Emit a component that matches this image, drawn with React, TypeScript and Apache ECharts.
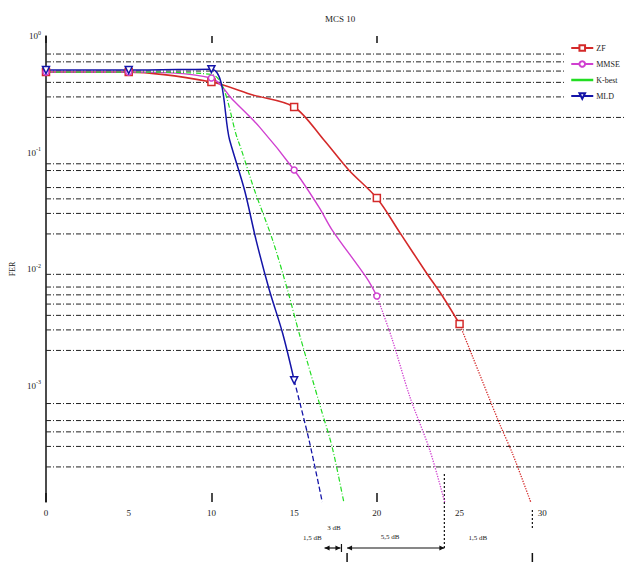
import React, { useEffect, useRef } from "react";
import * as echarts from "echarts";

// ---- data ----
const markerX = [0, 5, 10, 15, 20, 25];

const zfX = [0, 5, 10, 12.5, 15, 16.8, 18.3, 20, 21.4, 23, 24, 25];
const zfY = [0.49, 0.49, 0.403, 0.312, 0.246, 0.128, 0.0708, 0.0406, 0.0204, 0.00925, 0.00575, 0.00337];
const zfExtX = [25, 25.7, 27.4, 28.2, 29.3];
const zfExtY = [0.00337, 0.0019, 0.000476, 0.00026, 0.0001];

const mmseX = [0, 5, 10, 11.3, 12.9, 15, 16.5, 17.3, 19.4, 20];
const mmseY = [0.49, 0.49, 0.436, 0.282, 0.166, 0.0708, 0.034, 0.0216, 0.0083, 0.00586];
const mmseExtX = [20, 20.9, 22, 23.2, 24.1];
const mmseExtY = [0.00586, 0.00256, 0.000796, 0.000279, 0.0001];

const kbestX = [0, 5, 10, 11.6, 12.6, 13.7, 14.6, 15.3, 16.6, 17.3, 18.0];
const kbestY = [0.49, 0.49, 0.468, 0.128, 0.0476, 0.0177, 0.0066, 0.00282, 0.000646, 0.000295, 0.0001];

const mldX = [0, 5, 10, 11.1, 12.0, 12.7, 13.5, 14.3, 15];
const mldY = [0.51, 0.51, 0.519, 0.128, 0.0476, 0.0177, 0.0066, 0.00282, 0.00111];
const mldExtX = [15, 15.9, 16.7];
const mldExtY = [0.00111, 0.00034, 0.0001];

const gridValues = [
  0.7, 0.6, 0.5, 0.4, 0.3, 0.2,
  0.08, 0.07, 0.05, 0.04, 0.03, 0.02,
  0.009, 0.007, 0.006, 0.005, 0.004, 0.003, 0.002,
  0.0007, 0.0005, 0.0004, 0.0003, 0.0002,
];

const xTickValues = [0, 5, 10, 15, 20, 25, 30];
const xTickMarks = [0, 10, 20];

const seriesNames = ["ZF", "MMSE", "K-best", "MLD"];
const seriesColors = ["#d42a2a", "#d040d0", "#22dd22", "#1414a8"];

// annotation positions on the SNR axis
const bracketX = [16.84, 17.8, 18.2, 24.08, 29.4];
const annotLabels = ["1,5 dB", "3 dB", "5,5 dB", "1,5 dB"];
const annotLabelX = [16.1, 17.4, 20.8, 26.1];

function buildData(xs: number[], ys: number[], markers: boolean) {
  return xs.map((x, i) =>
    markers && markerX.includes(x) ? [x, ys[i]] : { value: [x, ys[i]], symbol: "none" }
  );
}

export default function App() {
  const ref = useRef<HTMLDivElement>(null);

  useEffect(() => {
    if (!ref.current) return;
    const chart = echarts.init(ref.current, undefined, { renderer: "svg" });
    const font = "Liberation Serif";
    const [cZF, cMM, cKB, cML] = seriesColors;

    const lineSeries = (name: string, xs: number[], ys: number[], color: string, opts: any) => ({
      name,
      type: "line",
      data: buildData(xs, ys, opts.markers),
      smooth: 0.3,
      showSymbol: true,
      showAllSymbol: true,
      symbol: opts.symbol || "none",
      symbolSize: opts.symbolSize || 7,
      symbolRotate: opts.symbolRotate || 0,
      lineStyle: { color, width: opts.width || 1.4, type: opts.type || "solid" },
      itemStyle: { color: "#ffffff", borderColor: color, borderWidth: 1.5 },
      z: 3,
      silent: true,
    });

    const option: any = {
      animation: false,
      backgroundColor: "#ffffff",
      title: {
        text: "MCS 10",
        left: 335,
        top: 9,
        textAlign: "center",
        textStyle: { fontSize: 9, fontWeight: "normal", fontFamily: font, color: "#222" },
      },
      legend: {
        orient: "vertical",
        left: 566,
        top: 40,
        itemWidth: 22,
        itemHeight: 7,
        itemGap: 8,
        padding: [4, 8, 8, 4],
        backgroundColor: "#ffffff",
        textStyle: { fontSize: 8, fontFamily: font, color: "#222", padding: [0, 0, 0, -2] },
        data: seriesNames.map((n) =>
          n === "K-best"
            ? {
                name: n,
                lineStyle: { type: "solid", width: 2.5, color: cKB },
                itemStyle: { color: "transparent", borderColor: "transparent", borderWidth: 0, opacity: 0 },
              }
            : { name: n, lineStyle: { type: "solid", width: 2 } }
        ),
      },
      grid: { left: 46, right: 4, top: 36, bottom: 62, containLabel: false },
      xAxis: [
        {
          type: "value",
          min: 0,
          max: 35,
          interval: 5,
          axisLine: { show: false },
          splitLine: { show: false },
          axisTick: { show: true, inside: true, length: 9, customValues: xTickMarks, lineStyle: { color: "#111", width: 1.5 } },
          axisLabel: {
            customValues: xTickValues,
            margin: 6,
            fontSize: 9,
            fontFamily: font,
            color: "#222",
          },
        },
        {
          type: "value",
          position: "top",
          min: 0,
          max: 35,
          interval: 5,
          axisLine: { show: false },
          splitLine: { show: false },
          axisLabel: { show: false },
          axisTick: { show: true, inside: true, length: 7, customValues: xTickMarks, lineStyle: { color: "#111", width: 1.5 } },
        },
      ],
      yAxis: [
        {
          type: "log",
          logBase: 10,
          min: 0.0001,
          max: 1,
          name: "FER",
          nameLocation: "middle",
          nameGap: 24,
          nameRotate: 90,
          nameTextStyle: { fontSize: 8, fontFamily: font, color: "#222" },
          axisLine: { show: false },
          axisTick: { show: false },
          splitLine: { show: false },
          axisLabel: {
            margin: 5,
            fontFamily: font,
            color: "#222",
            formatter: (v: number) => {
              const e = Math.round(Math.log10(v));
              if (e === -4) return "";
              return `{b|10}{s|${e}}`;
            },
            rich: {
              b: { fontSize: 9, fontFamily: font, color: "#222" },
              s: { fontSize: 6, fontFamily: font, color: "#222", padding: [0, 0, 7, 0] },
            },
          },
        },
        {
          type: "log",
          logBase: 10,
          min: 0.0001,
          max: 1,
          position: "right",
          axisLine: { show: true, lineStyle: { color: "#111", width: 1.5 } },
          axisTick: { show: false },
          axisLabel: { show: false },
          splitLine: { show: false },
        },
      ],
      series: [
        {
          name: "grid",
          type: "custom",
          z: 1,
          silent: true,
          data: gridValues.map((v) => [0, v]),
          encode: { x: 0, y: 1 },
          renderItem: (params: any, api: any) => {
            const y = api.coord([0, api.value(1)])[1];
            const cs = params.coordSys;
            return {
              type: "line",
              shape: { x1: cs.x, y1: y, x2: cs.x + cs.width, y2: y },
              style: { stroke: "#222", lineWidth: 1, lineDash: [5, 2, 1, 2] },
            };
          },
        },
        lineSeries("ZF", zfX, zfY, cZF, { markers: true, symbol: "rect", symbolSize: 7, width: 1.6 }),
        lineSeries("ZF ext", zfExtX, zfExtY, cZF, { markers: false, type: "dotted", width: 1.3 }),
        lineSeries("MMSE", mmseX, mmseY, cMM, { markers: true, symbol: "circle", symbolSize: 6, width: 1.4 }),
        lineSeries("MMSE ext", mmseExtX, mmseExtY, cMM, { markers: false, type: "dotted", width: 1.3 }),
        lineSeries("K-best", kbestX, kbestY, cKB, { markers: false, type: [5, 2, 1, 2], width: 1.2 }),
        lineSeries("MLD", mldX, mldY, cML, { markers: true, symbol: "triangle", symbolSize: 7, symbolRotate: 180, width: 1.5 }),
        lineSeries("MLD ext", mldExtX, mldExtY, cML, { markers: false, type: "dashed", width: 1.3 }),
      ],
    };

    chart.setOption(option);

    const px = (v: number) => chart.convertToPixel({ xAxisIndex: 0 }, v) as number;
    const arrowY = 548;
    const stroke = { stroke: "#111", lineWidth: 1.2 };
    const head = (x: number, dir: number) => ({
      type: "polygon",
      shape: { points: [[x, arrowY], [x + dir * 5, arrowY - 2.5], [x + dir * 5, arrowY + 2.5]] },
      style: { fill: "#111" },
    });
    const [b0, b1, b2, b3, b4] = bracketX.map(px);
    const textEl = (x: number, y: number, t: string) => ({
      type: "text",
      x,
      y,
      style: { text: t, fontSize: 7, fontFamily: font, fill: "#222", align: "center", verticalAlign: "middle" },
    });
    const graphic: any[] = [
      { type: "line", shape: { x1: b0, y1: arrowY, x2: b1, y2: arrowY }, style: stroke },
      head(b0, 1),
      head(b1, -1),
      { type: "line", shape: { x1: b1 + 1, y1: arrowY - 4, x2: b1 + 1, y2: arrowY + 4 }, style: stroke },
      { type: "line", shape: { x1: b2, y1: arrowY, x2: b3, y2: arrowY }, style: stroke },
      head(b2, 1),
      head(b3, -1),
      { type: "line", shape: { x1: b2, y1: 553, x2: b2, y2: 562 }, style: { stroke: "#111", lineWidth: 1.5 } },
      { type: "line", shape: { x1: b3, y1: 474, x2: b3, y2: 548 }, style: { stroke: "#111", lineWidth: 1.2, lineDash: [2, 2] } },
      { type: "line", shape: { x1: b4, y1: 510, x2: b4, y2: 530 }, style: { stroke: "#111", lineWidth: 1.2, lineDash: [2, 2] } },
      { type: "line", shape: { x1: b4, y1: 553, x2: b4, y2: 562 }, style: { stroke: "#111", lineWidth: 1.5 } },
      textEl(px(annotLabelX[0]), 538, annotLabels[0]),
      textEl(px(annotLabelX[1]), 528, annotLabels[1]),
      textEl(px(annotLabelX[2]), 537, annotLabels[2]),
      textEl(px(annotLabelX[3]), 538, annotLabels[3]),
      // legend frame bottom line
      { type: "line", shape: { x1: 567, y1: 107, x2: 623, y2: 107 }, style: { stroke: "#222", lineWidth: 1 } },
    ];
    chart.setOption({ graphic });

    return () => chart.dispose();
  }, []);

  return (
    <div
      ref={ref}
      style={{ position: "fixed", left: 0, top: 0, width: 629, height: 564, background: "#fff" }}
    />
  );
}
